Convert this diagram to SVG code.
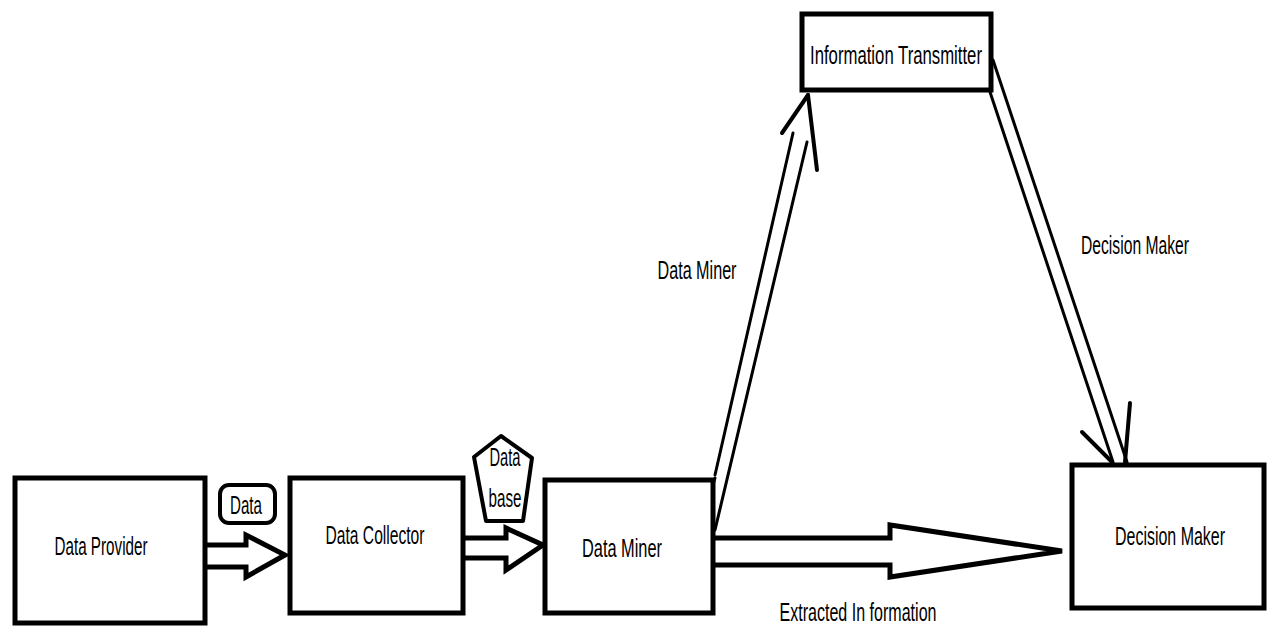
<svg xmlns="http://www.w3.org/2000/svg" width="1270" height="629" viewBox="0 0 1270 629">
<style>
.box{fill:#fff;stroke:#000;stroke-width:5}
.lbl{font-family:"Liberation Sans",Arial,sans-serif;font-size:25px;fill:#000}
.blk{fill:none;stroke:#000;stroke-width:5;stroke-linejoin:miter}
.ln{fill:none;stroke:#000;stroke-width:3;stroke-linecap:round}
.barb{fill:none;stroke:#000;stroke-width:4;stroke-linecap:round}
</style>
<rect width="1270" height="629" fill="#fff"/>
<g id="connectors">
<polyline class="blk" points="205,545 246,545 246,535 285,555 246,577 246,567 205,567"/>
<polyline class="blk" points="465,538 506,538 506,528 543,545 506,570 506,558 465,558"/>
<polyline class="blk" stroke-width="6" points="715,538 890,538 890,525 1062,551 890,577 890,565 715,565"/>
<line class="ln" x1="715" y1="475" x2="793" y2="133"/>
<line class="ln" x1="715" y1="530" x2="807" y2="142"/>
<line class="ln" x1="709" y1="498" x2="715" y2="478"/>
<line class="barb" stroke-width="5" x1="782" y1="133" x2="808" y2="95"/>
<line class="barb" x1="808" y1="95" x2="817" y2="170"/>
<line class="ln" x1="993" y1="60" x2="1127" y2="462"/>
<line class="ln" x1="990" y1="92" x2="1113" y2="462"/>
<line class="barb" x1="1082" y1="432" x2="1112" y2="462"/>
<line class="barb" x1="1130" y1="403" x2="1125" y2="462"/>
<text class="lbl" x="697" y="279" text-anchor="middle" textLength="79" lengthAdjust="spacingAndGlyphs">Data Miner</text>
<text class="lbl" x="1135" y="254" text-anchor="middle" textLength="108" lengthAdjust="spacingAndGlyphs">Decision Maker</text>
<text class="lbl" x="858" y="621" text-anchor="middle" textLength="157" lengthAdjust="spacingAndGlyphs">Extracted In formation</text>
</g>
<g id="data-label">
<rect x="220" y="485" width="55" height="38" rx="9" fill="#fff" stroke="#000" stroke-width="4"/>
<text class="lbl" x="246" y="514" text-anchor="middle" textLength="32" lengthAdjust="spacingAndGlyphs">Data</text>
</g>
<g id="database">
<polygon points="501,436 532,458 523,521 486,521 474,457" fill="#fff" stroke="#000" stroke-width="4" stroke-linejoin="round"/>
<text class="lbl" x="505" y="466" text-anchor="middle" textLength="31" lengthAdjust="spacingAndGlyphs">Data</text>
<text class="lbl" x="505" y="507" text-anchor="middle" textLength="33" lengthAdjust="spacingAndGlyphs">base</text>
</g>
<g id="data-provider">
<rect class="box" x="15" y="478" width="190" height="145"/>
<text class="lbl" x="101" y="555" text-anchor="middle" textLength="93" lengthAdjust="spacingAndGlyphs">Data Provider</text>
</g>
<g id="data-collector">
<rect class="box" x="290" y="478" width="173" height="135"/>
<text class="lbl" x="375" y="544" text-anchor="middle" textLength="99" lengthAdjust="spacingAndGlyphs">Data Collector</text>
</g>
<g id="data-miner">
<rect class="box" x="545" y="480" width="168" height="133"/>
<text class="lbl" x="622" y="557" text-anchor="middle" textLength="80" lengthAdjust="spacingAndGlyphs">Data Miner</text>
</g>
<g id="information-transmitter">
<rect class="box" x="802" y="14" width="189" height="76"/>
<text class="lbl" x="896" y="64" text-anchor="middle" textLength="172" lengthAdjust="spacingAndGlyphs">Information Transmitter</text>
</g>
<g id="decision-maker">
<rect class="box" x="1072" y="465" width="192" height="143"/>
<text class="lbl" x="1170" y="545" text-anchor="middle" font-size="23" textLength="110" lengthAdjust="spacingAndGlyphs">Decision Maker</text>
</g>
</svg>
